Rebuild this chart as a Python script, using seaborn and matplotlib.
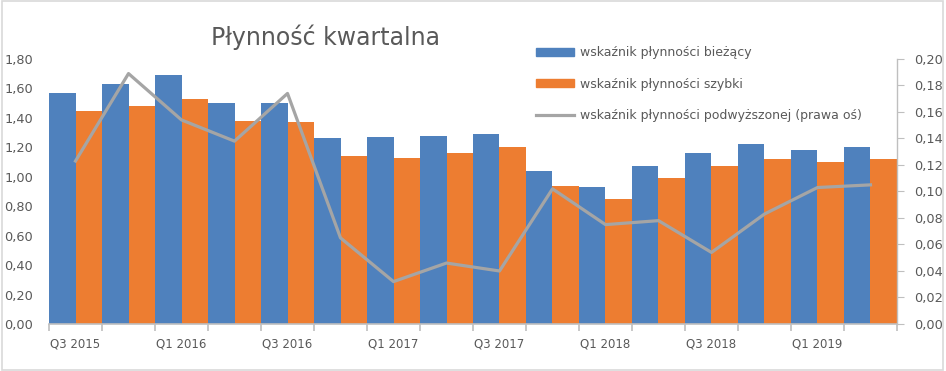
import numpy as np
import pandas as pd
import matplotlib
matplotlib.use("Agg")
import matplotlib.pyplot as plt
import seaborn as sns
from matplotlib.ticker import FuncFormatter, FixedLocator
from matplotlib.patches import Rectangle

# dane
kwartaly = ["Q3 2015", "Q4 2015", "Q1 2016", "Q2 2016", "Q3 2016", "Q4 2016",
            "Q1 2017", "Q2 2017", "Q3 2017", "Q4 2017", "Q1 2018", "Q2 2018",
            "Q3 2018", "Q4 2018", "Q1 2019", "Q2 2019"]
biezacy = [1.57, 1.63, 1.69, 1.50, 1.50, 1.26, 1.27, 1.28,
           1.29, 1.04, 0.93, 1.07, 1.16, 1.22, 1.18, 1.20]
szybki = [1.45, 1.48, 1.53, 1.38, 1.37, 1.14, 1.13, 1.16,
          1.20, 0.94, 0.85, 0.99, 1.07, 1.12, 1.10, 1.12]
podwyzszony = [0.123, 0.189, 0.154, 0.138, 0.174, 0.065, 0.032, 0.046,
               0.040, 0.102, 0.075, 0.078, 0.054, 0.083, 0.103, 0.105]

nazwy = ["wskaźnik płynności bieżący", "wskaźnik płynności szybki",
         "wskaźnik płynności podwyższonej (prawa oś)"]
kolory = ["#4F81BD", "#ED7D31", "#A5A5A5"]
szary_txt = "#595959"
szary_os = "#BFBFBF"

df = pd.DataFrame({
    "kwartal": kwartaly * 2,
    "wartosc": biezacy + szybki,
    "seria": [nazwy[0]] * len(kwartaly) + [nazwy[1]] * len(kwartaly),
})

plt.rcParams["font.family"] = ["DejaVu Sans"]
fig = plt.figure(figsize=(9.46, 3.71), dpi=100)
ax = fig.add_axes([0.0518, 0.1267, 0.8964, 0.7143])

sns.barplot(data=df, x="kwartal", y="wartosc", hue="seria", order=kwartaly,
            hue_order=nazwy[:2], palette=kolory[:2], width=1.0, gap=0,
            saturation=1, ax=ax, legend=False)

ax2 = ax.twinx()
sns.lineplot(x=np.arange(len(kwartaly)), y=podwyzszony, color=kolory[2],
             linewidth=2.3, ax=ax2)

# osie
ax.set_xlim(-0.5, len(kwartaly) - 0.5)
ax.set_ylim(0, 1.8)
ax2.set_ylim(0, 0.2)
ax.set_yticks(np.arange(0, 1.81, 0.2))
ax2.set_yticks(np.arange(0, 0.201, 0.02))
ax.yaxis.set_major_formatter(FuncFormatter(lambda v, p: f"{v:.2f}".replace(".", ",")))
ax2.yaxis.set_major_formatter(FuncFormatter(lambda v, p: f"{v:.2f}".replace(".", ",")))
ax.set_xticks(range(0, len(kwartaly), 2))
ax.set_xticklabels(kwartaly[::2])
ax.xaxis.set_minor_locator(FixedLocator(np.arange(-0.5, len(kwartaly), 1)))
ax.set_xlabel("")
ax.set_ylabel("")
ax2.set_ylabel("")

for a in (ax, ax2):
    for s in a.spines.values():
        s.set_visible(False)
ax.spines["bottom"].set_visible(True)
ax.spines["bottom"].set_color(szary_os)
ax.spines["bottom"].set_linewidth(1.2)
ax2.spines["right"].set_visible(True)
ax2.spines["right"].set_color(szary_os)
ax2.spines["right"].set_linewidth(1.0)

ax.tick_params(axis="x", which="major", length=0, pad=10, labelsize=8.5, labelcolor=szary_txt)
ax.tick_params(axis="x", which="minor", length=5, color=szary_os, width=1.2)
ax.tick_params(axis="y", length=0, pad=11.5, labelsize=9.3, labelcolor=szary_txt)
ax2.tick_params(axis="y", length=5, color=szary_os, pad=7.5, labelsize=9.3, labelcolor=szary_txt)

# legenda
uchwyty = [Rectangle((0, 0), 1, 1, color=kolory[0]),
           Rectangle((0, 0), 1, 1, color=kolory[1]),
           plt.Line2D([0], [0], color=kolory[2], linewidth=2.3)]
leg = fig.legend(uchwyty, nazwy, loc="upper left", bbox_to_anchor=(0.555, 0.905),
                 frameon=False, fontsize=9, handlelength=3.0, handleheight=0.55,
                 labelspacing=1.45, handletextpad=0.5)
for t in leg.get_texts():
    t.set_color(szary_txt)

fig.text(0.344, 0.90, "Płynność kwartalna", fontsize=17, color=szary_txt,
         ha="center", va="center")

fig.patches.append(Rectangle((0.002, 0.003), 0.995, 0.993, transform=fig.transFigure,
                             fill=False, edgecolor="#D9D9D9", linewidth=1.2))

fig.savefig("out.png", dpi=100)
